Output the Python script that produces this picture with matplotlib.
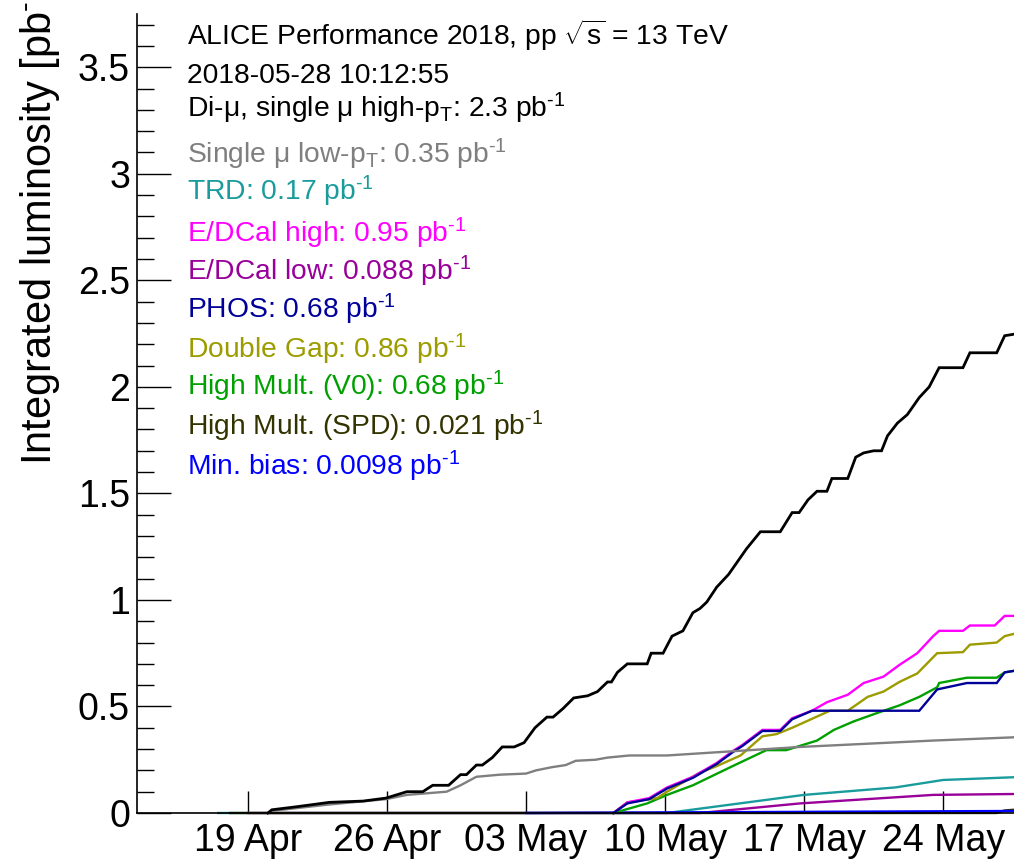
import numpy as np
import matplotlib
matplotlib.use("Agg")
import matplotlib.pyplot as plt
import matplotlib.dates as mdates

plt.rcParams['font.family'] = ['Liberation Sans', 'DejaVu Sans']
plt.rcParams['mathtext.fontset'] = 'custom'
plt.rcParams['mathtext.rm'] = 'Liberation Sans'
plt.rcParams['mathtext.it'] = 'Liberation Sans:italic'
plt.rcParams['mathtext.bf'] = 'Liberation Sans:bold'

# =========================================================
# Data: days since 2018-04-19 00:00, integrated luminosity [pb^-1]
# =========================================================
base_date = np.datetime64('2018-04-19T00:00')

dimu_days = [1.0, 1.2, 2.5, 4.1, 5.8, 6.95, 8.0, 8.8, 9.3, 10.1, 10.7, 11.0, 11.5, 11.8,
             12.3, 12.8, 13.4, 13.9, 14.45, 15.05, 15.36, 15.86, 16.4, 17.1, 17.6, 18.1,
             18.3, 18.6, 19.1, 20.1, 20.3, 20.9, 21.35, 21.9, 22.4, 22.76, 23.1, 23.6,
             24.2, 24.8, 25.1, 25.8, 26.8, 27.4, 27.75, 28.2, 28.65, 29.15, 29.4, 30.2,
             30.6, 31.0, 31.5, 31.9, 32.2, 32.7, 33.2, 33.8, 34.3, 34.8, 36.0, 36.35,
             37.7, 38.1, 39.4]
dimu_lumi = [0.0, 0.015, 0.03, 0.05, 0.056, 0.07, 0.10, 0.10, 0.13, 0.13, 0.18, 0.18, 0.225,
             0.225, 0.26, 0.31, 0.31, 0.33, 0.40, 0.45, 0.45, 0.49, 0.54, 0.55, 0.57, 0.615,
             0.615, 0.66, 0.70, 0.70, 0.75, 0.75, 0.83, 0.855, 0.94, 0.96, 0.99, 1.06, 1.12,
             1.20, 1.24, 1.32, 1.32, 1.41, 1.41, 1.47, 1.51, 1.51, 1.57, 1.57, 1.67, 1.69,
             1.70, 1.70, 1.77, 1.83, 1.87, 1.95, 2.00, 2.09, 2.09, 2.16, 2.16, 2.24, 2.26]

mulow_days = [1.2, 4.1, 6.95, 8.0, 10.0, 10.7, 11.5, 12.7, 14.0, 14.5, 15.3, 16.0, 16.5,
              17.5, 18.1, 19.2, 21.1, 22.76, 27.8, 34.5, 38.5, 39.4]
mulow_lumi = [0.01, 0.04, 0.065, 0.085, 0.10, 0.13, 0.17, 0.18, 0.185, 0.20, 0.215, 0.225,
              0.245, 0.25, 0.26, 0.27, 0.27, 0.28, 0.31, 0.34, 0.355, 0.36]

trd_days = [-1.5, 21.1, 28.0, 32.6, 35.0, 38.6, 39.4]
trd_lumi = [0.0, 0.0, 0.085, 0.12, 0.155, 0.168, 0.17]

emcal_high_days = [18.4, 19.1, 20.2, 21.1, 22.4, 23.6, 24.4, 24.9, 25.9, 26.8, 27.4, 28.4,
                   29.15, 30.2, 31.0, 32.0, 32.8, 33.7, 34.5, 34.8, 36.0, 36.35, 37.6,
                   38.1, 38.6, 39.4]
emcal_high_lumi = [0.0, 0.05, 0.07, 0.12, 0.17, 0.235, 0.29, 0.32, 0.39, 0.39, 0.445, 0.48,
                   0.52, 0.555, 0.61, 0.64, 0.695, 0.75, 0.83, 0.855, 0.855, 0.88, 0.88,
                   0.925, 0.925, 0.95]

emcal_low_days = [0.0, 22.76, 27.8, 34.5, 39.4]
emcal_low_lumi = [0.0, 0.0, 0.045, 0.085, 0.09]

phos_days = [18.4, 19.1, 20.2, 21.1, 22.4, 23.6, 24.4, 24.9, 25.9, 26.8, 27.4, 28.4,
             33.8, 34.7, 36.2, 37.7, 38.1, 39.4]
phos_lumi = [0.0, 0.045, 0.065, 0.115, 0.165, 0.23, 0.285, 0.315, 0.385, 0.385, 0.44,
             0.48, 0.48, 0.58, 0.61, 0.61, 0.66, 0.68]

dgap_days = [18.4, 19.1, 20.6, 21.1, 22.76, 23.6, 24.8, 25.9, 26.6, 27.4, 29.3, 30.2,
             31.2, 32.0, 32.8, 33.7, 34.7, 36.0, 36.35, 37.7, 38.1, 39.4]
dgap_lumi = [0.0, 0.05, 0.07, 0.10, 0.19, 0.22, 0.27, 0.36, 0.37, 0.40, 0.48, 0.48,
             0.545, 0.57, 0.615, 0.655, 0.75, 0.755, 0.79, 0.80, 0.83, 0.86]

hmv0_days = [18.4, 20.1, 21.1, 22.4, 24.4, 26.1, 27.1, 28.65, 29.5, 30.5, 31.7, 32.8,
             33.8, 34.7, 34.8, 36.2, 37.7, 38.1, 39.4]
hmv0_lumi = [0.0, 0.045, 0.085, 0.13, 0.22, 0.295, 0.295, 0.34, 0.39, 0.43, 0.47, 0.505,
             0.545, 0.59, 0.61, 0.635, 0.635, 0.66, 0.68]

hmspd_days = [-0.9, 37.7, 38.1, 39.4]
hmspd_lumi = [0.0, 0.0, 0.012, 0.021]

minb_days = [14.0, 39.4]
minb_lumi = [0.0, 0.0098]

SUP = r"$^{\text{-1}}$"
labels = [
    r"Di-μ, single μ high-p$_{\rm T}$: 2.3 pb" + SUP,
    r"Single μ low-p$_{\rm T}$: 0.35 pb" + SUP,
    "TRD: 0.17 pb" + SUP,
    "E/DCal high: 0.95 pb" + SUP,
    "E/DCal low: 0.088 pb" + SUP,
    "PHOS: 0.68 pb" + SUP,
    "Double Gap: 0.86 pb" + SUP,
    "High Mult. (V0): 0.68 pb" + SUP,
    "High Mult. (SPD): 0.021 pb" + SUP,
    "Min. bias: 0.0098 pb" + SUP,
]
colors = ['black', '#7f7f7f', '#1a9c9c', '#ff00ff', '#990099', '#000099',
          '#9c9c00', '#00a000', '#333300', '#0000ff']
series = [(dimu_days, dimu_lumi), (mulow_days, mulow_lumi), (trd_days, trd_lumi),
          (emcal_high_days, emcal_high_lumi), (emcal_low_days, emcal_low_lumi),
          (phos_days, phos_lumi), (dgap_days, dgap_lumi), (hmv0_days, hmv0_lumi),
          (hmspd_days, hmspd_lumi), (minb_days, minb_lumi)]


def to_dates(days):
    secs = np.round(np.array(days) * 86400).astype('int64')
    return base_date + secs.astype('timedelta64[s]')


# =========================================================
# Figure
# =========================================================
W, H = 1014, 859
fig = plt.figure(figsize=(W / 100, H / 100), dpi=100)
ax = fig.add_axes([137 / W, (H - 813) / H, 1 - 137 / W, (813 - 14) / H])

# draw order: small ones at baseline first, big ones on top
order = [2, 4, 8, 9, 7, 6, 3, 5, 1, 0]
for i in order:
    d, v = series[i]
    ax.plot(to_dates(d), v, color=colors[i], lw=2.0 if i == 0 else 1.7,
            clip_on=False, solid_joinstyle='miter')

ax.set_ylim(0, 3.75)
ax.set_xlim(to_dates([-5.59])[0], to_dates([38.57])[0])

ax.set_yticks(np.arange(0, 3.51, 0.5))
ax.set_yticks(np.arange(0, 3.75, 0.1), minor=True)
ax.set_yticklabels(['0', '0.5', '1', '1.5', '2', '2.5', '3', '3.5'])
ax.xaxis.set_major_locator(mdates.WeekdayLocator(byweekday=mdates.TH))
ax.xaxis.set_major_formatter(mdates.DateFormatter('%d %b'))

ax.tick_params(axis='y', which='major', direction='in', length=24.5, width=1.0,
               labelsize=27, pad=5)
ax.tick_params(axis='y', which='minor', direction='in', length=12.2, width=1.0)
ax.tick_params(axis='x', which='major', direction='in', length=15.8, width=1.0,
               labelsize=27, pad=7)
ax.tick_params(axis='x', which='minor', length=0)

for s in ['top', 'right']:
    ax.spines[s].set_visible(False)
for s in ['left', 'bottom']:
    ax.spines[s].set_linewidth(1.2)

# y title, ROOT style (runs past the top of the pad)
fig.text(52 / W, 1 - 465 / H, "Integrated luminosity [pb" + SUP + "]", rotation=90,
         rotation_mode='anchor', ha='left', va='baseline', fontsize=30)

# legend block
header = [r"ALICE Performance 2018, pp $\sqrt{\rm s}$ = 13 TeV", "2018-05-28 10:12:55"]
baselines = [45, 83, 117, 163, 200, 242, 280, 318, 358, 395, 435, 475]
texts = header + labels
text_colors = ['black', 'black'] + colors
for t, c, yb in zip(texts, text_colors, baselines):
    fig.text(187 / W, 1 - yb / H, t, color=c, fontsize=20.3, ha='left', va='baseline')

fig.savefig('out.png', dpi=100)
